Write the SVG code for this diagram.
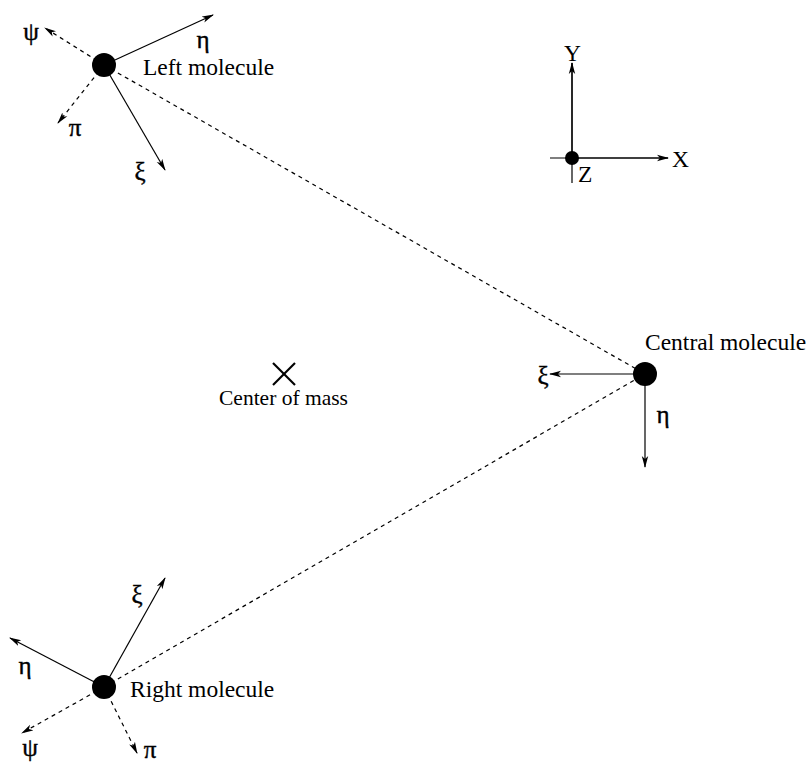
<svg xmlns="http://www.w3.org/2000/svg" width="812" height="762" viewBox="0 0 812 762">
<defs>
<marker id="ah" viewBox="0 0 12 8" refX="11" refY="4" markerWidth="12" markerHeight="8" markerUnits="userSpaceOnUse" orient="auto">
<path d="M0,0.8 L12,4 L0,7.2 L3,4 Z" fill="#000"/>
</marker>
</defs>
<style>
.s{stroke:#000;stroke-width:1.2;fill:none}
.d{stroke:#000;stroke-width:1.2;fill:none;stroke-dasharray:4,4}
.a{marker-end:url(#ah)}
.t{font-family:"Liberation Serif","Times New Roman",serif;font-size:23.5px;fill:#000}
.c{font-family:"Liberation Serif","Times New Roman",serif;font-size:21.5px;fill:#000}
.g{font-family:"Liberation Serif","Times New Roman",serif;font-size:25px;fill:#000;stroke:#000;stroke-width:0.4;text-anchor:middle}
</style>
<rect width="812" height="762" fill="#fff"/>
<g id="connectors">
<line class="d" x1="104" y1="65" x2="645" y2="374"/>
<line class="d" x1="104" y1="687" x2="645" y2="374"/>
</g>
<g id="left-molecule">
<line class="s a" x1="104" y1="65" x2="213" y2="15"/>
<line class="d a" x1="104" y1="65" x2="45" y2="28"/>
<line class="d a" x1="104" y1="65" x2="58" y2="123"/>
<line class="s a" x1="104" y1="65" x2="165" y2="170"/>
<circle cx="104" cy="65" r="12" fill="#000"/>
<text class="g" x="31" y="40">ψ</text>
<text class="g" x="203" y="48">η</text>
<text class="g" x="75" y="136">π</text>
<text class="g" x="140" y="180">ξ</text>
<text class="t" x="143" y="75">Left molecule</text>
</g>
<g id="central-molecule">
<line class="s a" x1="645" y1="374" x2="550" y2="374"/>
<line class="s a" x1="645" y1="374" x2="645" y2="467"/>
<circle cx="645" cy="374" r="12" fill="#000"/>
<text class="g" x="543" y="384">ξ</text>
<text class="g" x="663" y="423">η</text>
<text class="t" x="645" y="350">Central molecule</text>
</g>
<g id="right-molecule">
<line class="s a" x1="104" y1="687" x2="165" y2="578"/>
<line class="s a" x1="104" y1="687" x2="10" y2="638"/>
<line class="d a" x1="104" y1="687" x2="22" y2="733"/>
<line class="d a" x1="104" y1="687" x2="137" y2="753"/>
<circle cx="104" cy="687" r="12" fill="#000"/>
<text class="g" x="137" y="603">ξ</text>
<text class="g" x="25" y="674">η</text>
<text class="g" x="30" y="756">ψ</text>
<text class="g" x="150" y="758">π</text>
<text class="t" x="130" y="697">Right molecule</text>
</g>
<g id="center-of-mass">
<line class="s" x1="273" y1="363" x2="295" y2="385" style="stroke-width:2.2"/>
<line class="s" x1="295" y1="363" x2="273" y2="385" style="stroke-width:2.2"/>
<text class="c" x="219" y="405">Center of mass</text>
</g>
<g id="axes">
<line class="s" x1="550" y1="158" x2="668" y2="158"/>
<line class="s a" x1="572" y1="158" x2="668" y2="158"/>
<line class="s" x1="572" y1="183" x2="572" y2="63"/>
<line class="s a" x1="572" y1="158" x2="572" y2="63"/>
<circle cx="572" cy="158" r="7" fill="#000"/>
<text class="t" x="564" y="61">Y</text>
<text class="t" x="672" y="167">X</text>
<text class="t" x="578" y="182">Z</text>
</g>
</svg>
